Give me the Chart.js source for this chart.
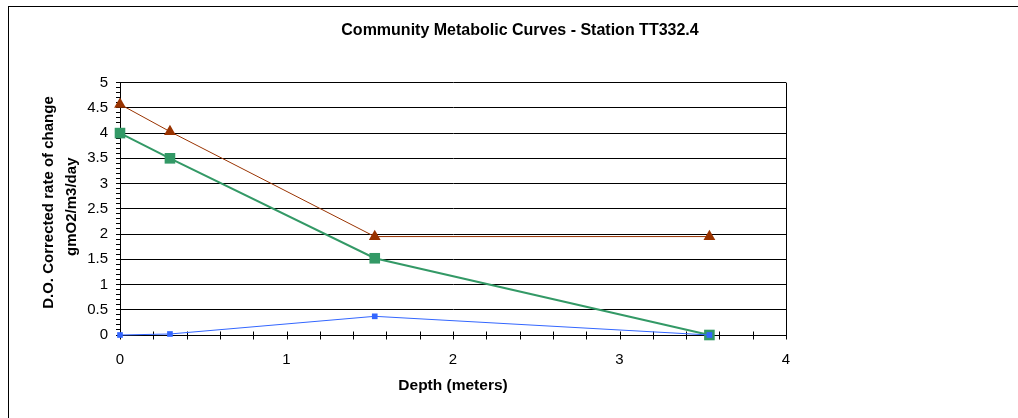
<!DOCTYPE html>
<html>
<head>
<meta charset="utf-8">
<script src="https://cdn.jsdelivr.net/npm/chart.js@4.4.1/dist/chart.umd.min.js"></script>
<style>
  html, body { margin: 0; padding: 0; background: #fff; overflow: hidden; }
  body { width: 1018px; height: 418px; position: relative; }
  #frame { position: absolute; left: 8px; top: 6px; width: 1100px; height: 500px;
           border-left: 1px solid #000; border-top: 1px solid #000; box-sizing: border-box; }
  #c { position: absolute; left: 0; top: 0; }
</style>
</head>
<body>
<div id="frame"></div>
<canvas id="c" width="1040" height="418"></canvas>
<script>
// ---- data ----
const depths = [0, 0.3, 1.53, 3.54];
const seriesBlue = [0, 0.02, 0.37, 0];
const seriesGreen = [4.0, 3.5, 1.52, 0];
const seriesBrown = [4.57, 4.03, 1.95, 1.95];
const yTickLabels = ['0', '0.5', '1', '1.5', '2', '2.5', '3', '3.5', '4', '4.5', '5'];
const xTickLabels = ['0', '1', '2', '3', '4'];
const chartTitle = 'Community Metabolic Curves - Station TT332.4';
const xTitle = 'Depth (meters)';
const yTitle = ['D.O. Corrected rate of change', 'gmO2/m3/day'];

const FONT = '"Liberation Sans", Arial, sans-serif';
const toPts = (ys) => depths.map((x, i) => ({ x: x, y: ys[i] }));
const isMult = (v, step) => Math.abs(v / step - Math.round(v / step)) < 1e-6;

const crossTicks = {
  id: 'crossTicks',
  beforeDatasetsDraw(chart) {
    const s = chart.scales.x;
    const ctx = chart.ctx;
    const y = Math.round(s.top) + 0.5;
    ctx.save();
    ctx.strokeStyle = '#000';
    ctx.lineWidth = 1;
    s.ticks.forEach(t => {
      const px = Math.round(s.getPixelForValue(t.value)) + 0.5;
      ctx.beginPath();
      ctx.moveTo(px, y - 4);
      ctx.lineTo(px, y + 4);
      ctx.stroke();
    });
    ctx.restore();
  }
};

new Chart(document.getElementById('c'), {
  type: 'line',
  data: {
    datasets: [
      { data: toPts(seriesBlue), borderColor: '#3366FF', backgroundColor: '#3366FF', clip: false,
        borderWidth: 1, pointStyle: 'rect', pointRadius: 4, pointBorderWidth: 0 },
      { data: toPts(seriesGreen), borderColor: '#339966', backgroundColor: '#339966', clip: false,
        borderWidth: 2, pointStyle: 'rect', pointRadius: 7.5, pointBorderWidth: 0 },
      { data: toPts(seriesBrown), borderColor: '#993300', backgroundColor: '#993300', clip: false,
        borderWidth: 1, pointStyle: 'triangle', pointRadius: 6.8, pointBorderWidth: 0 }
    ]
  },
  options: {
    responsive: false,
    animation: false,
    devicePixelRatio: 1,
    layout: { padding: 0 },
    plugins: {
      legend: { display: false },
      tooltip: { enabled: false },
      title: {
        display: true, text: chartTitle, color: '#000',
        font: { family: FONT, size: 16, weight: 'bold' },
        padding: { top: 21, bottom: 42.4 }
      }
    },
    scales: {
      x: {
        type: 'linear', min: 0, max: 4,
        ticks: {
          stepSize: 0.2, autoSkip: false, maxRotation: 0, color: '#000', padding: 16,
          font: { family: FONT, size: 15 },
          callback: v => isMult(v, 1) ? xTickLabels[Math.round(v)] : ''
        },
        grid: {
          drawTicks: false,
          color: c => (c.tick && isMult(c.tick.value, 4) && c.tick.value > 0) ? '#000' : 'rgba(0,0,0,0)',
          lineWidth: 1
        },
        border: { display: true, color: '#000', width: 1 },
        title: { display: true, text: xTitle, color: '#000',
                 font: { family: FONT, size: 15.5, weight: 'bold' }, padding: { top: 0, bottom: 23 } },
        afterFit: s => { s.height = 83; }
      },
      y: {
        type: 'linear', min: 0, max: 5,
        ticks: {
          stepSize: 0.1, autoSkip: false, color: '#000', padding: 8,
          font: { family: FONT, size: 15 },
          callback: v => isMult(v, 0.5) ? yTickLabels[Math.round(v * 2)] : ''
        },
        grid: {
          drawTicks: true, tickLength: 4, tickColor: '#000',
          color: c => (c.tick && isMult(c.tick.value, 0.5)) ? '#000' : 'rgba(0,0,0,0)',
          lineWidth: 1
        },
        border: { display: true, color: '#000', width: 1 },
        title: { display: true, text: ['   ' + yTitle[0], ' ' + yTitle[1]], color: '#000',
                 font: { family: FONT, size: 15, weight: 'bold', lineHeight: 1.55 },
                 padding: { top: 37, bottom: 0 } },
        afterFit: s => { s.width = 120; }
      },
      yR: {
        type: 'linear', position: 'right', display: true,
        ticks: { display: false },
        grid: { display: false, drawTicks: false },
        border: { display: false },
        afterFit: s => { s.width = 254; }
      }
    }
  },
  plugins: [crossTicks]
});
</script>
</body>
</html>
